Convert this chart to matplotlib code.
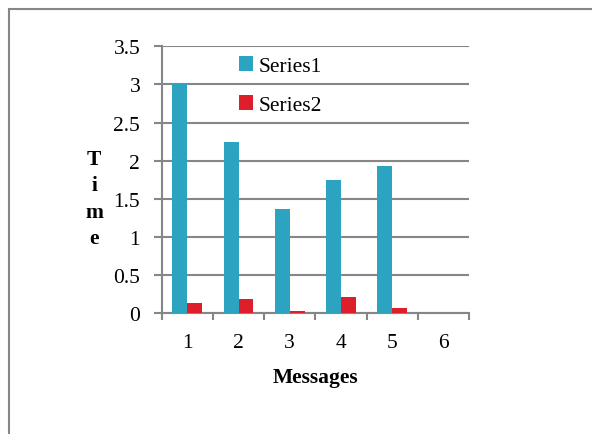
import numpy as np
import matplotlib.pyplot as plt
from matplotlib.patches import Rectangle

# dados
mensagens = ['1', '2', '3', '4', '5', '6']
series1 = [3.0, 2.24, 1.365, 1.75, 1.93, 0.0]
series2 = [0.13, 0.19, 0.026, 0.21, 0.066, 0.0]

cor1 = '#2ca3c0'
cor2 = '#dc1f2a'
cinza = '#868686'
fs = 15.5

plt.rcParams['font.family'] = ['Liberation Serif', 'DejaVu Serif']

fig = plt.figure(figsize=(5.92, 4.35), dpi=100)
W, H = 592, 435

# moldura (só topo e esquerda aparecem)
fig.patches.append(Rectangle((8.5 / W, -0.1), 1.2, (H - 9.5) / H + 0.1,
                             transform=fig.transFigure, fill=False,
                             edgecolor=cinza, linewidth=1.5))

ax = fig.add_axes([161.7 / W, 1 - 314.3 / H, (469 - 161.7) / W, (314.3 - 47.3) / H])

x = np.arange(len(mensagens))
larg = 0.29
ax.bar(x - larg / 2, series1, width=larg, color=cor1, label='Series1', zorder=3)
ax.bar(x + larg / 2, series2, width=larg, color=cor2, label='Series2', zorder=3)

ax.set_xlim(-0.5, len(mensagens) - 0.5)
ax.set_ylim(0, 3.5)
ax.set_yticks(np.arange(0, 3.51, 0.5))
ax.set_yticklabels(['0', '0.5', '1', '1.5', '2', '2.5', '3', '3.5'])
ax.set_xticks(x)
ax.set_xticklabels(mensagens)
ax.set_xticks(np.arange(-0.5, len(mensagens)), minor=True)

ax.grid(axis='y', color=cinza, linewidth=1.5, zorder=0)
for lado in ['top', 'right']:
    ax.spines[lado].set_visible(False)
for lado in ['left', 'bottom']:
    ax.spines[lado].set_color(cinza)
    ax.spines[lado].set_linewidth(1.5)

ax.tick_params(axis='y', which='major', length=6, width=1.5, color=cinza,
               labelsize=fs, pad=9.5)
ax.tick_params(axis='x', which='major', length=0, labelsize=fs, pad=14)
ax.tick_params(axis='x', which='minor', length=5, width=1.5, color=cinza)

ax.set_xlabel('Messages', fontsize=fs, fontweight='bold', labelpad=11)
ax.set_ylabel('T\ni\nm\ne', fontsize=fs, fontweight='bold', rotation=0,
               va='center', ha='center', linespacing=1.42)
ax.yaxis.set_label_coords(-0.22, 0.43)

ax.legend(loc='upper left', bbox_to_anchor=(0.19, 1.035), frameon=False,
          fontsize=fs, handlelength=0.65, handleheight=0.65,
          handletextpad=0.25, labelspacing=0.9)

plt.savefig('out.png', dpi=100)
